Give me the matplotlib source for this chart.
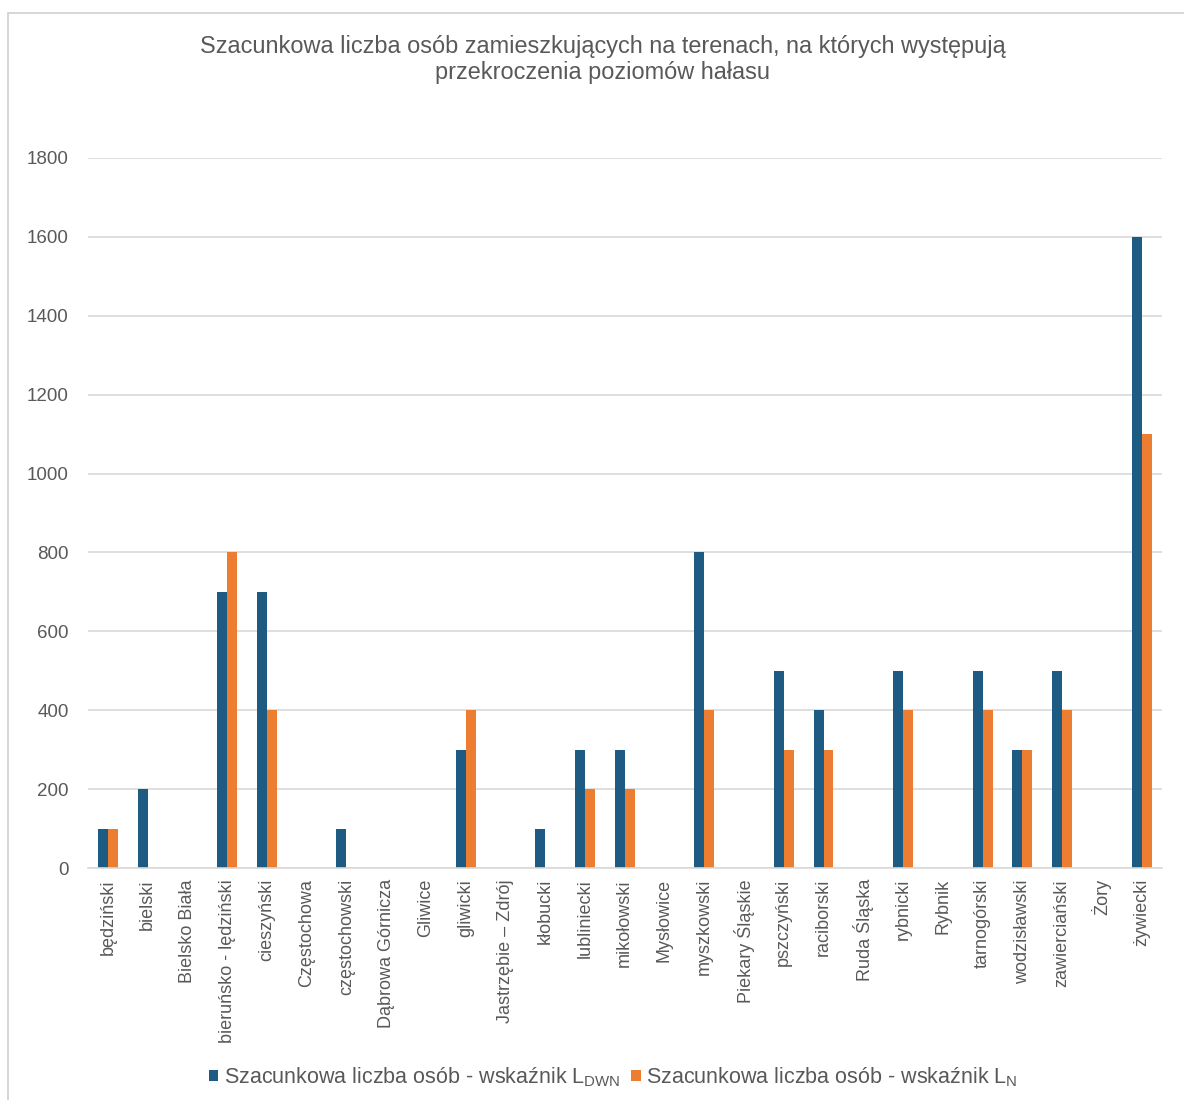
import matplotlib
matplotlib.use('Agg')
import matplotlib.pyplot as plt
from matplotlib.patches import Rectangle
import numpy as np

plt.rcParams['font.family'] = ['Liberation Sans', 'DejaVu Sans']

districts = ['będziński', 'bielski', 'Bielsko Biała', 'bieruńsko - lędziński', 'cieszyński',
             'Częstochowa', 'częstochowski', 'Dąbrowa Górnicza', 'Gliwice', 'gliwicki',
             'Jastrzębie – Zdrój', 'kłobucki', 'lubliniecki', 'mikołowski', 'Mysłowice',
             'myszkowski', 'Piekary Śląskie', 'pszczyński', 'raciborski', 'Ruda Śląska',
             'rybnicki', 'Rybnik', 'tarnogórski', 'wodzisławski', 'zawierciański', 'Żory',
             'żywiecki']
l_dwn = [100, 200, 0, 700, 700, 0, 100, 0, 0, 300, 0, 100, 300, 300, 0, 800, 0, 500, 400, 0,
         500, 0, 500, 300, 500, 0, 1600]
l_n = [100, 0, 0, 800, 400, 0, 0, 0, 0, 400, 0, 0, 200, 200, 0, 400, 0, 300, 300, 0,
       400, 0, 400, 300, 400, 0, 1100]
yticks = [0, 200, 400, 600, 800, 1000, 1200, 1400, 1600, 1800]

blue = '#1d5b82'
orange = '#ed7d31'
grey = '#595959'

fig = plt.figure(figsize=(11.84, 11.0), dpi=100)
fig.patches.append(Rectangle((0.0068, -0.01), 1.1, 0.998, transform=fig.transFigure,
                             fill=False, edgecolor='#d0d0d0', linewidth=1.2))
ax = fig.add_axes([0.0743, 0.2109, 0.9067, 0.6455])

x = np.arange(len(districts))
w = 0.25
ax.bar(x - w / 2, l_dwn, w, color=blue, label=r'Szacunkowa liczba osób - wskaźnik L$_{\mathregular{DWN}}$')
ax.bar(x + w / 2, l_n, w, color=orange, label=r'Szacunkowa liczba osób - wskaźnik L$_{\mathregular{N}}$')

ax.set_xlim(-0.5, len(districts) - 0.5)
ax.set_ylim(0, 1800)
ax.set_yticks(yticks)
ax.set_xticks(x)
ax.set_xticklabels(districts, rotation=90, fontsize=13, color=grey)
ax.tick_params(axis='y', labelsize=13.5, labelcolor=grey, length=0, pad=14)
ax.tick_params(axis='x', length=0, pad=8)
ax.grid(axis='y', color='#d9d9d9', linewidth=1.2)
ax.set_axisbelow(True)
for s in ['top', 'right', 'left']:
    ax.spines[s].set_visible(False)
ax.spines['bottom'].set_color('#d9d9d9')
ax.spines['bottom'].set_linewidth(1.2)

fig.text(0.509, 0.946, 'Szacunkowa liczba osób zamieszkujących na terenach, na których występują\n'
         'przekroczenia poziomów hałasu', ha='center', va='center', fontsize=16.9,
         color=grey, linespacing=1.2)

fig.legend(loc='center', bbox_to_anchor=(0.518, 0.021), ncol=2, frameon=False, fontsize=15.5,
           handlelength=0.45, handleheight=0.45, handletextpad=0.25, columnspacing=0.5,
           labelcolor=grey)

fig.savefig('out.png', dpi=100)
